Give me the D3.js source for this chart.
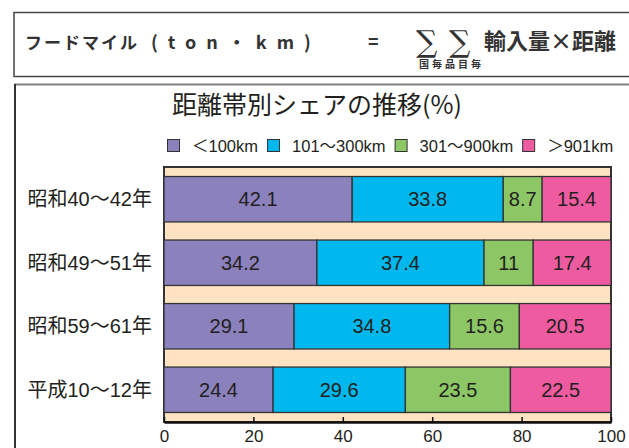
<!DOCTYPE html>
<html>
<head>
<meta charset="utf-8">
<script src="https://cdn.jsdelivr.net/npm/d3@7/dist/d3.min.js"></script>
<style>
  html, body { margin: 0; padding: 0; background: #fff; }
  svg { display: block; }
  text { font-family: "Liberation Sans", Arial, "Noto Sans CJK JP", sans-serif; }
</style>
</head>
<body>
<svg id="chart" width="629" height="448"></svg>
<script>
// Periods (rows) and distance bands (stacked segments)
const categories = ["昭和40～42年", "昭和49～51年", "昭和59～61年", "平成10～12年"];
const bandNames = ["＜100km", "101～300km", "301～900km", "＞901km"];
const bandKeys = ["under100", "d101to300", "d301to900", "over901"];
const bandColors = ["#8a81bd", "#00b8ee", "#8cc665", "#ee5ba0"];

// Share (%) of each distance band per period
const under100 = [42.1, 34.2, 29.1, 24.4];
const d101to300 = [33.8, 37.4, 34.8, 29.6];
const d301to900 = [8.7, 11, 15.6, 23.5];
const over901 = [15.4, 17.4, 20.5, 22.5];

const xTicks = [0, 20, 40, 60, 80, 100];

const rows = categories.map((c, i) => ({
  period: c,
  under100: under100[i],
  d101to300: d101to300[i],
  d301to900: d301to900[i],
  over901: over901[i]
}));

const svg = d3.select("#chart");
const cjk = "\"Noto Sans CJK JP\", sans-serif";

// ---- formula header box ----
svg.append("rect")
  .attr("x", 14).attr("y", 12.5).attr("width", 640).attr("height", 64)
  .attr("fill", "#fff").attr("stroke", "#444").attr("stroke-width", 1.5);

const hdr = svg.append("g").attr("font-weight", "bold").attr("fill", "#333");
hdr.append("text").attr("x", 25).attr("y", 49)
  .style("font-family", cjk).attr("font-size", 17).attr("letter-spacing", 2)
  .text("フードマイル");
hdr.append("text").attr("x", 151).attr("y", 49)
  .style("font-family", cjk).attr("font-size", 18).attr("letter-spacing", 10)
  .text("(ton・km)");
hdr.append("text").attr("x", 368).attr("y", 48)
  .attr("font-size", 18).text("=");
hdr.append("text").attr("x", 416).attr("y", 52)
  .style("font-family", "\"DejaVu Serif\", serif").attr("font-weight", "normal")
  .attr("font-size", 30).text("∑");
hdr.append("text").attr("x", 449).attr("y", 52)
  .style("font-family", "\"DejaVu Serif\", serif").attr("font-weight", "normal")
  .attr("font-size", 30).text("∑");
hdr.append("text").attr("x", 484).attr("y", 49)
  .style("font-family", cjk).attr("font-size", 22).attr("letter-spacing", 0)
  .text("輸入量×距離");
hdr.append("text").attr("x", 419).attr("y", 68)
  .style("font-family", cjk).attr("font-size", 10).attr("letter-spacing", 3)
  .text("国毎品目毎");

// ---- chart panel border ----
svg.append("line").attr("x1", 14).attr("x2", 629).attr("y1", 84.5).attr("y2", 84.5)
  .attr("stroke", "#808080").attr("stroke-width", 2);
svg.append("line").attr("x1", 15).attr("x2", 15).attr("y1", 84).attr("y2", 448)
  .attr("stroke", "#333").attr("stroke-width", 2);

// ---- title ----
svg.append("text")
  .attr("x", 172).attr("y", 114)
  .style("font-family", cjk).attr("font-size", 25).attr("fill", "#231f20")
  .text("距離帯別シェアの推移(%)");

// ---- legend ----
const legend = svg.append("g").attr("transform", "translate(167,139)");
let lx = 0;
bandNames.forEach((name, i) => {
  legend.append("rect")
    .attr("x", lx + 0.5).attr("y", 0.5).attr("width", 12).attr("height", 12)
    .attr("fill", bandColors[i]).attr("stroke", "#333").attr("stroke-width", 1);
  const t = legend.append("text")
    .attr("x", lx + 25).attr("y", 12.5)
    .attr("font-size", 16.5).attr("fill", "#231f20")
    .text(name);
  lx += 25 + t.node().getComputedTextLength() + 9;
});

// ---- scales ----
const x = d3.scaleLinear().domain([0, 100]).range([164, 611]);
const y = d3.scaleBand().domain(categories).range([167, 422])
  .paddingInner(0.285).paddingOuter(0.15);

// plot frame
svg.append("rect")
  .attr("x", x(0)).attr("y", 167).attr("width", x(100) - x(0)).attr("height", 422 - 167)
  .attr("fill", "#fde3c1").attr("stroke", "#333").attr("stroke-width", 2);

// stacked bars
const stack = d3.stack().keys(bandKeys)(rows);
const layers = svg.append("g").selectAll("g").data(stack).join("g")
  .attr("fill", (d, i) => bandColors[i]);
layers.selectAll("rect").data(d => d).join("rect")
  .attr("x", d => x(d[0]))
  .attr("y", d => y(d.data.period))
  .attr("width", d => x(d[1]) - x(d[0]))
  .attr("height", y.bandwidth())
  .attr("stroke", "#333").attr("stroke-width", 1.3);

// value labels
layers.selectAll("text").data(d => d.map(v => Object.assign(v, { key: d.key }))).join("text")
  .attr("x", d => (x(d[0]) + x(d[1])) / 2)
  .attr("y", d => y(d.data.period) + y.bandwidth() / 2)
  .attr("dy", "0.36em")
  .attr("text-anchor", "middle")
  .attr("font-size", 20).attr("fill", "#231f20")
  .text(d => d.data[d.key]);

// row labels
svg.append("g").selectAll("text").data(categories).join("text")
  .attr("x", 152)
  .attr("y", d => y(d) + y.bandwidth() / 2)
  .attr("dy", "0.36em")
  .attr("text-anchor", "end")
  .attr("font-size", 20).attr("fill", "#231f20")
  .text(d => d);

// x axis
const axis = svg.append("g").attr("transform", "translate(0,422)")
  .call(d3.axisBottom(x).tickValues(xTicks).tickSize(-5).tickPadding(8).tickSizeOuter(0));
axis.select(".domain").attr("stroke", "#111").attr("stroke-width", 2.5);
axis.selectAll(".tick line").attr("stroke", "#111").attr("stroke-width", 1.5);
axis.selectAll(".tick text")
  .attr("font-size", 17).attr("fill", "#231f20")
  .style("font-family", "\"Liberation Sans\", Arial, sans-serif");
</script>
</body>
</html>
